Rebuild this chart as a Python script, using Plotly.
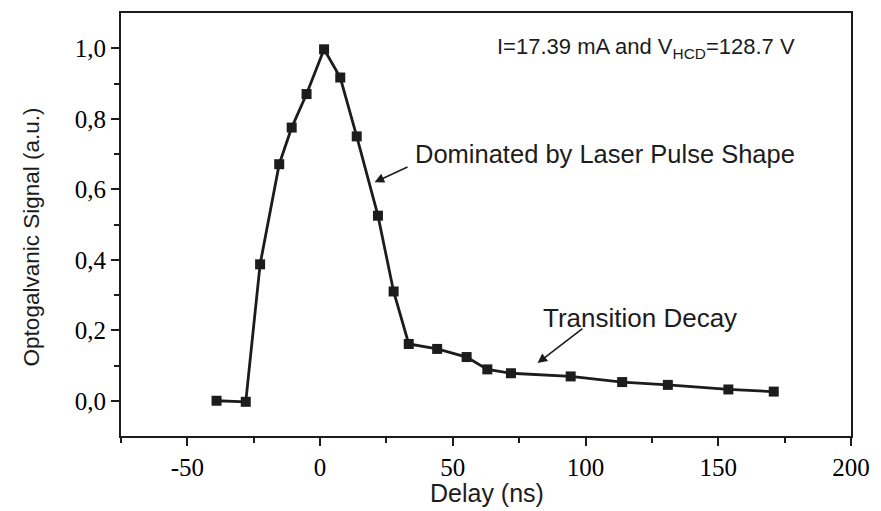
import plotly.graph_objects as go

# Data
delay_ns = [-39, -28, -22.6, -15.4, -10.7, -5.1, 1.5, 7.6, 13.8, 21.8, 27.7,
            33.4, 44.1, 55.2, 63.0, 71.9, 94.4, 113.8, 131.0, 153.8, 170.9]
signal = [0.0, -0.003, 0.387, 0.671, 0.775, 0.870, 0.997, 0.917, 0.750, 0.525, 0.310,
          0.161, 0.147, 0.124, 0.089, 0.078, 0.069, 0.053, 0.045, 0.032, 0.026]

x_tick_vals = [-50, 0, 50, 100, 150, 200]
x_tick_text = ["-50", "0", "50", "100", "150", "200"]
x_minor_vals = [-75, -25, 25, 75, 125, 175]
y_tick_vals = [0.0, 0.2, 0.4, 0.6, 0.8, 1.0]
y_tick_text = ["0,0", "0,2", "0,4", "0,6", "0,8", "1,0"]
y_minor_vals = [0.1, 0.3, 0.5, 0.7, 0.9]

ink = "#1c1c1c"
serif = "Liberation Serif"
sans = "Liberation Sans"

fig = go.Figure()
fig.add_trace(go.Scatter(
    x=delay_ns, y=signal, mode="lines+markers",
    line=dict(color=ink, width=2.8),
    marker=dict(symbol="square", size=10, color=ink),
    showlegend=False,
))

axis_common = dict(
    showline=True, linecolor=ink, linewidth=2, mirror=True,
    showgrid=False, zeroline=False,
    ticks="outside", ticklen=8, tickwidth=2, tickcolor=ink,
    tickfont=dict(family=serif, size=25, color="black"),
)

fig.update_xaxes(range=[-75, 200], tickvals=x_tick_vals, ticktext=x_tick_text,
                 minor=dict(tickvals=x_minor_vals, ticks="outside", ticklen=5,
                            tickwidth=2, tickcolor=ink, showgrid=False),
                 **axis_common)
fig.update_yaxes(range=[-0.1, 1.1], tickvals=y_tick_vals, ticktext=y_tick_text,
                 minor=dict(tickvals=y_minor_vals, ticks="outside", ticklen=5,
                            tickwidth=2, tickcolor=ink, showgrid=False),
                 **axis_common)

annotations = [
    dict(x=65.9, y=1.0, xref="x", yref="y", xanchor="left", yanchor="middle",
         text="I=17.39 mA and V<sub>HCD</sub>=128.7 V", showarrow=False,
         font=dict(family=sans, size=22, color=ink)),
    dict(x=35.0, y=0.70, xref="x", yref="y", xanchor="left", yanchor="middle",
         text="Dominated by Laser Pulse Shape", showarrow=False,
         font=dict(family=sans, size=25.5, color=ink)),
    dict(x=83.4, y=0.235, xref="x", yref="y", xanchor="left", yanchor="middle",
         text="Transition Decay", showarrow=False,
         font=dict(family=sans, size=26, color=ink)),
    # arrows
    dict(x=20.5, y=0.62, xref="x", yref="y", ax=33.5, ay=0.665, axref="x", ayref="y",
         text="", showarrow=True, arrowhead=2, arrowsize=1.2, arrowwidth=1.6,
         arrowcolor=ink),
    dict(x=81.9, y=0.107, xref="x", yref="y", ax=99.4, ay=0.208, axref="x", ayref="y",
         text="", showarrow=True, arrowhead=2, arrowsize=1.2, arrowwidth=1.6,
         arrowcolor=ink),
    # axis titles
    dict(x=-0.123, y=0.47, xref="paper", yref="paper", xanchor="center", yanchor="middle",
         text="Optogalvanic Signal (a.u.)", textangle=-90, showarrow=False,
         font=dict(family=sans, size=22.5, color=ink)),
    dict(x=0.5007, y=-0.134, xref="paper", yref="paper", xanchor="center", yanchor="middle",
         text="Delay (ns)", showarrow=False,
         font=dict(family=sans, size=25, color=ink)),
]

fig.update_layout(
    width=881, height=511,
    margin=dict(l=121, r=20, t=11, b=75),
    paper_bgcolor="white", plot_bgcolor="white",
    annotations=annotations,
)

fig.write_html("out.html")
